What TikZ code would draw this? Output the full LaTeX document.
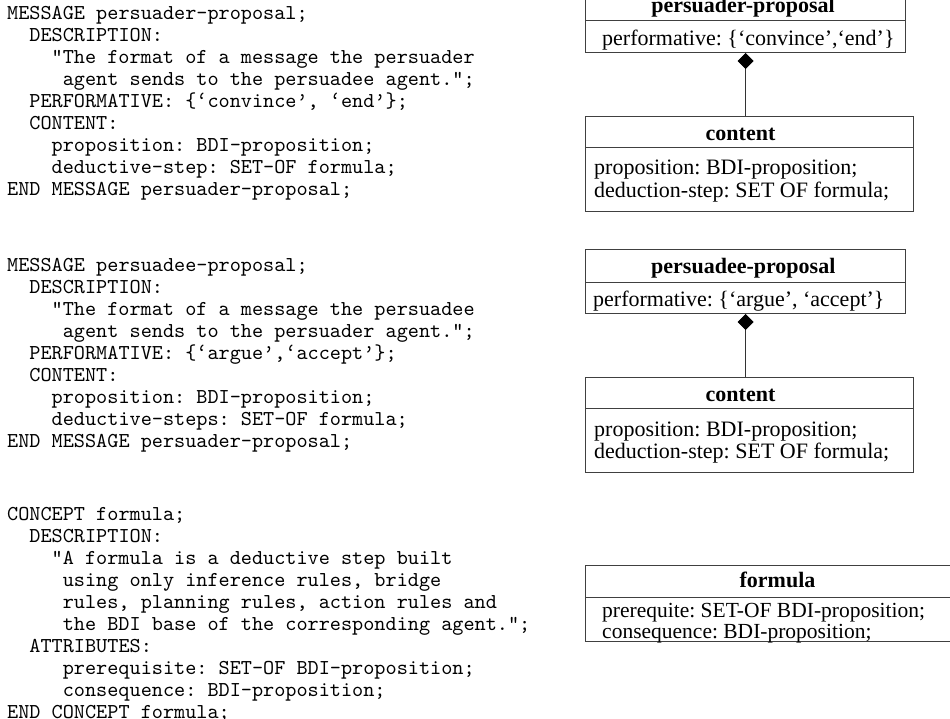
\documentclass[tikz,border=0pt]{standalone}
\usepackage{fontspec}
\setmainfont{Liberation Serif}
\newfontfamily\spectt{lmmono10-regular}[Extension=.otf]
\usetikzlibrary{arrows.meta}
\begin{document}
\frenchspacing
\begin{tikzpicture}[x=1pt,y=-1pt,
  frame/.style={draw=black!75, line width=1pt, rectangle, inner sep=0pt, anchor=north west},
  umltitle/.style={inner sep=0pt, anchor=base, font=\fontsize{22}{22}\selectfont\bfseries},
  umlattr/.style={inner sep=0pt, anchor=base west, font=\fontsize{22}{22}\selectfont},
  spec/.style={inner sep=0pt, anchor=base west, font=\fontsize{21.2}{22}\selectfont\spectt},
  comp/.style={draw=black!80, line width=1pt, {Diamond[length=16pt,width=16pt,fill=black,color=black]}-}
]
\useasboundingbox (0,0) rectangle (950,719);

% ---- textual specifications ----
\node[spec] (specA) at (7,20) {\begin{tabular}[t]{@{}l@{}}
MESSAGE persuader-proposal;\\
~~DESCRIPTION:\\
~~~~"The format of a message the persuader\\
~~~~~agent sends to the persuadee agent.";\\
~~PERFORMATIVE: \{‘convince’, ‘end’\};\\
~~CONTENT:\\
~~~~proposition: BDI-proposition;\\
~~~~deductive-step: SET-OF formula;\\
END MESSAGE persuader-proposal;
\end{tabular}};

\node[spec] (specB) at (7,271.5) {\begin{tabular}[t]{@{}l@{}}
MESSAGE persuadee-proposal;\\
~~DESCRIPTION:\\
~~~~"The format of a message the persuadee\\
~~~~~agent sends to the persuader agent.";\\
~~PERFORMATIVE: \{‘argue’,‘accept’\};\\
~~CONTENT:\\
~~~~proposition: BDI-proposition;\\
~~~~deductive-steps: SET-OF formula;\\
END MESSAGE persuader-proposal;
\end{tabular}};

\node[spec] (specC) at (7,520) {\begin{tabular}[t]{@{}l@{}}
CONCEPT formula;\\
~~DESCRIPTION:\\
~~~~"A formula is a deductive step built\\
~~~~~using only inference rules, bridge\\
~~~~~rules, planning rules, action rules and\\
~~~~~the BDI base of the corresponding agent.";\\
~~ATTRIBUTES:\\
~~~~~prerequisite: SET-OF BDI-proposition;\\
~~~~~consequence: BDI-proposition;\\
END CONCEPT formula;
\end{tabular}};

% ---- class diagram: persuader-proposal ----
\node[frame, minimum width=320, minimum height=33] (prTitleBox) at (585,-13) {};
\node[frame, minimum width=320, minimum height=32] (prAttrBox) at (585,20) {};
\node[umltitle] (prTitle) at (743,12.5) {persuader-proposal};
\node[umlattr] (prAttr) at (602,45.5) {performative: \{‘convince’,‘end’\}};

\node[frame, minimum width=328, minimum height=31] (c1TitleBox) at (585,116) {};
\node[frame, minimum width=328, minimum height=64] (c1AttrBox) at (585,147) {};
\node[umltitle] (c1Title) at (740.5,140.5) {content};
\node[umlattr] (c1Attr) at (594,175) {\begin{tabular}[t]{@{}l@{}}
proposition: BDI-proposition;\\
deduction-step: SET OF formula;
\end{tabular}};
\draw[comp] (prAttrBox.south) -- (prAttrBox.south |- c1TitleBox.north);

% ---- class diagram: persuadee-proposal ----
\node[frame, minimum width=320, minimum height=33] (peTitleBox) at (585,249) {};
\node[frame, minimum width=320, minimum height=31] (peAttrBox) at (585,282) {};
\node[umltitle] (peTitle) at (743.3,274) {persuadee-proposal};
\node[umlattr] (peAttr) at (593,306.5) {performative: \{‘argue’, ‘accept’\}};

\node[frame, minimum width=328, minimum height=31] (c2TitleBox) at (585,377) {};
\node[frame, minimum width=328, minimum height=64] (c2AttrBox) at (585,408) {};
\node[umltitle] (c2Title) at (740.5,401.5) {content};
\node[umlattr] (c2Attr) at (594,436) {\begin{tabular}[t]{@{}l@{}}
proposition: BDI-proposition;\\
deduction-step: SET OF formula;
\end{tabular}};
\draw[comp] (peAttrBox.south) -- (peAttrBox.south |- c2TitleBox.north);

% ---- class diagram: formula ----
\node[frame, minimum width=385, minimum height=32] (fTitleBox) at (585,565) {};
\node[frame, minimum width=385, minimum height=44] (fAttrBox) at (585,597) {};
\node[umltitle] (fTitle) at (777.5,587.3) {formula};
\node[umlattr, font=\fontsize{21.5}{21.5}\selectfont] (fAttrA) at (602,617.5) {prerequite: SET-OF BDI-proposition;};
\node[umlattr, font=\fontsize{21.5}{21.5}\selectfont] (fAttrB) at (602,638) {consequence: BDI-proposition;};
\end{tikzpicture}
\end{document}
